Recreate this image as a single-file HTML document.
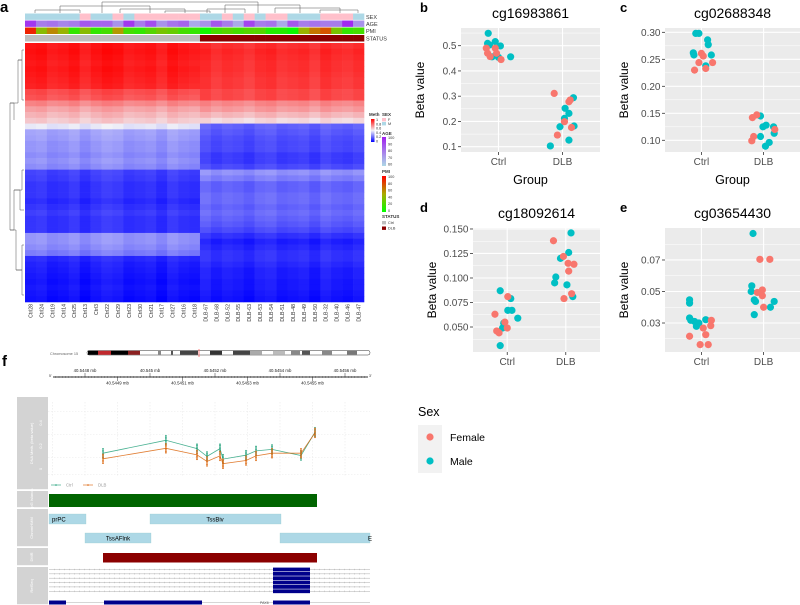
<!DOCTYPE html>
<html><head><meta charset="utf-8">
<style>
html,body{margin:0;padding:0;background:#fff;}
svg{display:block;font-family:"Liberation Sans",sans-serif;}
</style></head>
<body>
<svg id="fig" width="800" height="605" viewBox="0 0 800 605" xmlns="http://www.w3.org/2000/svg">
<g id="pa"></g>
<g id="pb"></g>
<g id="pc"></g>
<g id="pd"></g>
<g id="pe"></g>
<g id="leg"></g>
<g id="pf"></g>
</svg>
<script>
// ---------- Heatmap data ----------
const hmCols = ["Ctrl28","Ctrl24","Ctrl19","Ctrl14","Ctrl25","Ctrl13","Ctrl3","Ctrl22","Ctrl29","Ctrl23","Ctrl30","Ctrl21","Ctrl17","Ctrl27","Ctrl16","Ctrl18","DLB-67","DLB-68","DLB-52","DLB-55","DLB-63","DLB-53","DLB-54","DLB-51","DLB-48","DLB-49","DLB-50","DLB-32","DLB-40","DLB-46","DLB-47"];
const hmCtrlRow = [0.95,0.96,0.95,0.94,0.95,0.94,0.93,0.92,0.84,0.82,0.72,0.66,0.62,0.58,0.47,0.33,0.32,0.30,0.30,0.28,0.30,0.28,0.13,0.12,0.10,0.10,0.10,0.08,0.10,0.12,0.10,0.10,0.10,0.30,0.30,0.28,0.25,0.08,0.06,0.05,0.04,0.03,0.04,0.03,0.02];
const hmDlbRow = [0.90,0.92,0.91,0.90,0.90,0.89,0.88,0.88,0.85,0.85,0.72,0.68,0.62,0.55,0.20,0.18,0.16,0.15,0.15,0.12,0.12,0.15,0.30,0.26,0.20,0.20,0.22,0.22,0.20,0.22,0.20,0.18,0.15,0.10,0.06,0.08,0.10,0.10,0.08,0.06,0.06,0.05,0.05,0.04,0.03];
const hmColOffset = [0.01,0.02,-0.01,0.0,0.02,-0.02,0.01,0.03,0.02,-0.01,0.0,0.01,-0.02,0.02,0.0,-0.01,0.02,-0.01,0.01,0.0,-0.02,0.01,0.02,-0.01,0.0,0.01,-0.02,0.02,0.0,-0.01,0.01];
const hmSex = ["M","M","M","M","M","F","M","M","F","M","F","F","F","F","F","F","M","M","F","M","F","M","F","F","M","M","M","F","F","F","M"];
const hmAge = [95,80,82,78,80,88,85,85,75,95,80,90,75,82,85,70,75,88,80,70,92,80,82,70,88,80,82,80,80,98,75];
const hmPmi = [90,40,60,45,15,40,15,20,55,20,15,25,35,30,20,15,5,20,25,20,25,25,10,10,3,45,65,75,35,15,20];
// ---------- Scatter data (value, jitter, sex) ----------
const bCtrlVal=[0.549,0.509,0.516,0.499,0.456,0.454,0.456,0.503,0.47,0.457,0.49,0.445,0.49,0.47];
const bCtrlJit=[-0.16,-0.17,-0.05,0.03,-0.1,0,0.19,-0.14,-0.17,-0.13,-0.05,0.04,-0.19,-0.03];
const bCtrlSex=["M","M","M","M","M","M","M","M","F","F","F","F","F","F"];
const bDlbVal=[0.103,0.179,0.212,0.252,0.232,0.294,0.182,0.126,0.311,0.146,0.199,0.278,0.176,0.285];
const bDlbJit=[-0.19,-0.04,0.03,0.04,0.1,0.17,0.18,0.1,-0.13,-0.08,0.03,0.1,0.14,0.12];
const bDlbSex=["M","M","M","M","M","M","M","M","F","F","F","F","F","F"];
const cCtrlVal=[0.298,0.298,0.286,0.277,0.262,0.258,0.258,0.238,0.23,0.244,0.261,0.233,0.244,0.256];
const cCtrlJit=[-0.09,-0.04,0.1,0.11,-0.13,-0.12,0.16,0.07,-0.11,-0.04,0,0.07,0.18,0.03];
const cCtrlSex=["M","M","M","M","M","M","M","M","F","F","F","F","F","F"];
const cDlbVal=[0.145,0.125,0.128,0.125,0.113,0.107,0.089,0.096,0.142,0.147,0.12,0.107,0.099];
const cDlbJit=[-0.05,-0.01,0.04,0.16,0.17,-0.05,0.03,0.09,-0.18,-0.11,0.18,-0.16,-0.19];
const cDlbSex=["M","M","M","M","M","M","M","M","F","F","F","F","F"];
const dCtrlVal=[0.087,0.079,0.067,0.067,0.059,0.054,0.049,0.031,0.063,0.081,0.055,0.046,0.044,0.049];
const dCtrlJit=[-0.12,0.06,0.01,0.08,0.18,-0.06,-0.08,-0.12,-0.21,0.01,-0.04,-0.18,-0.14,0];
const dCtrlSex=["M","M","M","M","M","M","M","M","F","F","F","F","F","F"];
const dDlbVal=[0.146,0.126,0.12,0.101,0.095,0.093,0.081,0.138,0.122,0.115,0.114,0.107,0.084,0.079];
const dDlbJit=[0.09,0.05,-0.09,-0.17,-0.19,0.02,0.12,-0.21,-0.04,0.04,0.14,0.05,0.1,-0.03];
const dDlbSex=["M","M","M","M","M","M","M","F","F","F","F","F","F","F"];
const eCtrlVal=[0.0447,0.0426,0.0332,0.0317,0.0279,0.03,0.0321,0.031,0.0216,0.0163,0.0163,0.0268,0.0226,0.0317,0.0283];
const eCtrlJit=[-0.19,-0.19,-0.19,-0.17,-0.08,-0.04,0.07,-0.11,-0.19,-0.02,0.11,0.03,0.07,0.16,0.15];
const eCtrlSex=["M","M","M","M","M","M","M","M","F","F","F","F","F","F","F"];
const eDlbVal=[0.0868,0.0536,0.05,0.0447,0.0437,0.0353,0.0437,0.04,0.0704,0.0704,0.051,0.0494,0.0473,0.04];
const eDlbJit=[-0.17,-0.19,-0.2,-0.15,-0.13,-0.15,0.17,0.11,-0.06,0.1,-0.02,-0.1,-0.02,0];
const eDlbSex=["M","M","M","M","M","M","M","M","F","F","F","F","F","F"];
const bTicks=[0.1,0.2,0.3,0.4,0.5];
const cTicks=[0.10,0.15,0.20,0.25,0.30];
const dTicks=[0.050,0.075,0.100,0.125,0.150];
const eTicks=[0.03,0.05,0.07];
// ---------- Genome track data ----------
const cpgPos=[40.5448554,40.5450490,40.5451446,40.5451754,40.5452154,40.5452246,40.5452954,40.5453262,40.5453754,40.5454646,40.5455077];
const methCtrl=[0.137,0.25,0.177,0.11,0.177,0.086,0.12,0.157,0.17,0.117,0.32];
const methDlb=[0.089,0.18,0.123,0.066,0.114,0.046,0.074,0.114,0.137,0.137,0.314];
const methTicks=[0,0.2,0.4];
const axisTopLabels=[40.5448,40.5450,40.5452,40.5454,40.5456];
const axisBotLabels=[40.5449,40.5451,40.5453,40.5455];

const NS="http://www.w3.org/2000/svg";
function el(parent,tag,attrs,text){const e=document.createElementNS(NS,tag);for(const k in attrs)e.setAttribute(k,attrs[k]);if(text!==undefined)e.textContent=text;parent.appendChild(e);return e;}

// ======== Panel a ========
const pa=document.getElementById('pa');
const lblA=el(pa,'text',{x:0,y:12,'font-size':15,'font-weight':'bold'},'a');


const hx0=25,hx1=364,hy0=43,hy1=302;
const cw=(hx1-hx0)/hmCols.length, rh=(hy1-hy0)/hmCtrlRow.length;
function methColor(v){v=Math.max(0,Math.min(1,v));let r,g,b;
 if(v<0.5){const t=v/0.5;r=Math.round(0+t*242);g=Math.round(0+t*242);b=Math.round(255-t*8);}
 else{const t=(v-0.5)/0.5;r=Math.round(242+t*13);g=Math.round(242-t*242);b=Math.round(247-t*247);}
 return `rgb(${r},${g},${b})`;}
const cells=el(pa,'g',{});


for(let i=0;i<hmCtrlRow.length;i++){for(let j=0;j<hmCols.length;j++){
 const base=hmCols[j].startsWith('Ctrl')?hmCtrlRow[i]:hmDlbRow[i];
 const c=el(cells,'rect',{x:(hx0+j*cw).toFixed(2),y:(hy0+i*rh).toFixed(2),width:(cw+0.3).toFixed(2),height:(rh+0.3).toFixed(2),fill:methColor(base+hmColOffset[j])});
 
 
}}
function ageColor(a){const t=(a-60)/40;const r=Math.round(173+t*(160-173)),g=Math.round(216+t*(32-216)),b=Math.round(230+t*(240-230));return `rgb(${r},${g},${b})`;}
function pmiColor(p){const t=p/100;let r,g,b;if(t<0.5){const s=t/0.5;r=Math.round(0+s*170);g=Math.round(255-s*85);b=0;}else{const s=(t-0.5)/0.5;r=Math.round(170+s*85);g=Math.round(170-s*170);b=0;}return `rgb(${r},${g},${b})`;}
const annY=[13.5,20.5,27.5,35];
const annNames=['SEX','AGE','PMI','STATUS'];
for(let j=0;j<hmCols.length;j++){
 const x=hx0+j*cw;
 const s=el(pa,'rect',{x:x,y:annY[0],width:cw+0.3,height:6.5,fill:hmSex[j]==='F'?'#FFC0CB':'#ADD8E6'});
 
 
 const a=el(pa,'rect',{x:x,y:annY[1],width:cw+0.3,height:6.5,fill:ageColor(hmAge[j])});
 
 
 const p=el(pa,'rect',{x:x,y:annY[2],width:cw+0.3,height:6.5,fill:pmiColor(hmPmi[j])});
 
 
 const st=el(pa,'rect',{x:x,y:annY[3],width:cw+0.3,height:6.5,fill:hmCols[j].startsWith('Ctrl')?'#BEBEBE':'#8B0000'});
 
 
 const t=el(pa,'text',{x:0,y:0,'font-size':5.2,fill:'#333','text-anchor':'end',transform:`translate(${(x+cw/2+2).toFixed(1)},304) rotate(-90)`},hmCols[j]);
 
 
}
el(pa,'line',{x1:hx0,y1:20.2,x2:hx1,y2:20.2,stroke:'#fff','stroke-width':0.6});
el(pa,'line',{x1:hx0,y1:27.2,x2:hx1,y2:27.2,stroke:'#fff','stroke-width':0.6});
for(let k=0;k<4;k++){const t=el(pa,'text',{x:366,y:annY[k]+5.5,'font-size':5.5,fill:'#333'},annNames[k]);
 
 }
const dend=el(pa,'g',{stroke:'#555','stroke-width':0.5,fill:'none'});


el(dend,'path',{d:'M102 13V2H258V13 M102 6H60V13 M102 6H150V13 M60 10H35V13 M60 10H80V13 M150 9H120V13 M150 9H185V13 M185 11H165V13 M185 11H210V13 M258 5H225V13 M258 5H300V13 M300 8H275V13 M300 8H340V13 M340 10H320V13 M340 10H358V13 M225 9H207V13 M225 9H245V13'});
el(dend,'path',{d:'M10 103V230 M10 103H18V60 M18 60H22V50 M18 60H22V100 M10 103H14V120 M10 230H14V190 M10 230H16V270 M14 190H22V170 M14 190H20V210 M16 270H22V245 M16 270H22V295 M22 50H24 M22 100H24 M22 170H24 M20 210H24 M22 245H24 M22 295H24'});
function gradRect(id,stops,x,y,w,h,nm){const defs=el(pa,'defs',{});const lg=el(defs,'linearGradient',{id:id,x1:0,y1:1,x2:0,y2:0});stops.forEach((c,i)=>el(lg,'stop',{offset:i/(stops.length-1),'stop-color':c}));const r=el(pa,'rect',{x:x,y:y,width:w,height:h,fill:`url(#${id})`});}
el(pa,'text',{x:369,y:116,'font-size':4.5,'font-weight':'bold',fill:'#333'},'Meth');
gradRect('gm',['#0000FF','#F2F2F7','#FF0000'],371,119,3.5,23,'meth-colorbar');
['1','0.8','0.6','0.4','0.2','0'].forEach((t,i)=>el(pa,'text',{x:376,y:121+i*4.3,'font-size':3.8,fill:'#333'},t));
el(pa,'text',{x:382,y:116,'font-size':4.5,'font-weight':'bold',fill:'#333'},'SEX');
el(pa,'rect',{x:382,y:118,width:4,height:3.4,fill:'#FFC0CB'});el(pa,'rect',{x:382,y:122,width:4,height:3.4,fill:'#ADD8E6'});
el(pa,'text',{x:388,y:121,'font-size':3.8,fill:'#333'},'F');el(pa,'text',{x:388,y:125,'font-size':3.8,fill:'#333'},'M');
el(pa,'text',{x:382,y:135,'font-size':4.5,'font-weight':'bold',fill:'#333'},'AGE');
gradRect('ga',['#ADD8E6','#A020F0'],382,137,4,29,'age-colorbar');
['100','90','80','70','60'].forEach((t,i)=>el(pa,'text',{x:388,y:139+i*6.6,'font-size':3.8,fill:'#333'},t));
el(pa,'text',{x:382,y:173,'font-size':4.5,'font-weight':'bold',fill:'#333'},'PMI');
gradRect('gp',['#00FF00','#AAAA00','#FF0000'],382,176,4,36,'pmi-colorbar');
['100','80','60','40','20','0'].forEach((t,i)=>el(pa,'text',{x:388,y:178+i*6.8,'font-size':3.8,fill:'#333'},t));
el(pa,'text',{x:382,y:218,'font-size':4.5,'font-weight':'bold',fill:'#333'},'STATUS');
el(pa,'rect',{x:382,y:221,width:4,height:3.4,fill:'#BEBEBE'});el(pa,'rect',{x:382,y:226.5,width:4,height:3.4,fill:'#8B0000'});
el(pa,'text',{x:388,y:224,'font-size':3.8,fill:'#333'},'Ctrl');el(pa,'text',{x:388,y:229.5,'font-size':3.8,fill:'#333'},'DLB');

// ======== Scatter panels ========
function scatter(gid,cfg){
 const g=document.getElementById(gid);
 const {x0,x1,y0,y1,vTop,vBot,ticks,fmt,title,letter,letterX,showGroup}=cfg;
 const xs=c=>x0+(c-0.415)/(2.585-0.415)*(x1-x0);
 const ys=v=>y0+(vTop-v)/(vTop-vBot)*(y1-y0);
 const bg=el(g,'rect',{x:x0,y:y0,width:x1-x0,height:y1-y0,fill:'#EBEBEB'});
 
 
 const step=ticks[1]-ticks[0];
 for(let k=-1;k<ticks.length;k++){const m=ticks[0]+step*(k+0.5);const yy=ys(m);if(yy>y0&&yy<y1)el(g,'line',{x1:x0,x2:x1,y1:yy,y2:yy,stroke:'#fff','stroke-width':0.5});}
 ticks.forEach(t=>{const yy=ys(t);
  el(g,'line',{x1:x0,x2:x1,y1:yy,y2:yy,stroke:'#fff','stroke-width':1.1});
  el(g,'line',{x1:x0-3,x2:x0,y1:yy,y2:yy,stroke:'#333','stroke-width':0.8});
  const tl=el(g,'text',{x:x0-4.5,y:yy+3.5,'font-size':10,fill:'#4D4D4D','text-anchor':'end'},t.toFixed(fmt));
  
  });
 [1,2].forEach((c,i)=>{const xx=xs(c);
  el(g,'line',{x1:xx,x2:xx,y1:y0,y2:y1,stroke:'#fff','stroke-width':1.1});
  el(g,'line',{x1:xx,x2:xx,y1:y1,y2:y1+3,stroke:'#333','stroke-width':0.8});
  const xl=el(g,'text',{x:xx,y:y1+13,'font-size':10,fill:'#4D4D4D','text-anchor':'middle'},['Ctrl','DLB'][i]);
  
  });
 const yt=el(g,'text',{x:0,y:0,'font-size':12,fill:'#000','text-anchor':'middle',transform:`translate(${x0-37},${(y0+y1)/2}) rotate(-90)`},'Beta value');
 
 
 if(showGroup){const gt=el(g,'text',{x:(x0+x1)/2,y:y1+32,'font-size':12.5,fill:'#000','text-anchor':'middle'},'Group');
  
  }
 const tt=el(g,'text',{x:(x0+x1)/2,y:y0-10,'font-size':14,fill:'#000','text-anchor':'middle'},title);
 
 
 const lt=el(g,'text',{x:letterX,y:y0-16,'font-size':13,'font-weight':'bold',fill:'#000'},letter);
 
 
 const groups=[[1,cfg.cv,cfg.cj,cfg.cs],[2,cfg.dv,cfg.dj,cfg.ds]];
 groups.forEach(([c,vals,jit,sex])=>{
  vals.forEach((v,i)=>{const p=el(g,'circle',{cx:xs(c+jit[i]).toFixed(2),cy:ys(v).toFixed(2),r:3.6,fill:sex[i]==='F'?'#F8766D':'#00BFC4'});
   
   });
 });
}
scatter('pb',{x0:461,x1:600,y0:28,y1:152,vTop:0.57,vBot:0.079,ticks:bTicks,fmt:1,title:'cg16983861',letter:'b',letterX:420,showGroup:true,cv:bCtrlVal,cj:bCtrlJit,cs:bCtrlSex,dv:bDlbVal,dj:bDlbJit,ds:bDlbSex});
scatter('pc',{x0:665,x1:800,y0:28,y1:152,vTop:0.308,vBot:0.0783,ticks:cTicks,fmt:2,title:'cg02688348',letter:'c',letterX:620,showGroup:true,cv:cCtrlVal,cj:cCtrlJit,cs:cCtrlSex,dv:cDlbVal,dj:cDlbJit,ds:cDlbSex});
scatter('pd',{x0:473,x1:600,y0:228,y1:352,vTop:0.151,vBot:0.0245,ticks:dTicks,fmt:3,title:'cg18092614',letter:'d',letterX:420,showGroup:false,cv:dCtrlVal,cj:dCtrlJit,cs:dCtrlSex,dv:dDlbVal,dj:dDlbJit,ds:dDlbSex});
scatter('pe',{x0:665,x1:800,y0:228,y1:352,vTop:0.0903,vBot:0.0116,ticks:eTicks,fmt:2,title:'cg03654430',letter:'e',letterX:620,showGroup:false,cv:eCtrlVal,cj:eCtrlJit,cs:eCtrlSex,dv:eDlbVal,dj:eDlbJit,ds:eDlbSex});

const lg=document.getElementById('leg');
el(lg,'text',{x:418,y:416,'font-size':12.5,fill:'#000'},'Sex');
el(lg,'rect',{x:418,y:425,width:24,height:48,fill:'#F2F2F2'});
const lf=el(lg,'circle',{cx:430,cy:437,r:3.6,fill:'#F8766D'});


const lm=el(lg,'circle',{cx:430,cy:461,r:3.6,fill:'#00BFC4'});


el(lg,'text',{x:450,y:441,'font-size':10.5,fill:'#000'},'Female');
el(lg,'text',{x:450,y:465,'font-size':10.5,fill:'#000'},'Male');

// ======== Panel f ========
const pf=document.getElementById('pf');
const lf2=el(pf,'text',{x:2,y:366,'font-size':15,'font-weight':'bold'},'f');


el(pf,'text',{x:50,y:355,'font-size':3.8,fill:'#666'},'Chromosome 15');
const ideo=el(pf,'g',{});


el(ideo,'rect',{x:87,y:350.5,width:283,height:4.5,rx:2,fill:'#fff',stroke:'#333','stroke-width':0.5});
[[88,98,'#000'],[98,111,'#C0282D'],[111,128,'#000'],[128,140,'#8B2020'],[158,161,'#888'],[171,173,'#555'],[180,198,'#444'],[210,222,'#333'],[233,250,'#444'],[250,262,'#aaa'],[273,285,'#bbb'],[291,300,'#888'],[302,310,'#555'],[322,332,'#888'],[347,357,'#777']].forEach(s=>el(ideo,'rect',{x:s[0],y:350.8,width:s[1]-s[0],height:4,fill:s[2]}));
el(ideo,'line',{x1:199,x2:199,y1:349,y2:357,stroke:'#f66','stroke-width':0.8});
const ax=el(pf,'g',{});


const gx=v=>85+(v-40.5448)*260/0.0008;
el(ax,'line',{x1:53,x2:368,y1:377,y2:377,stroke:'#333','stroke-width':1});
el(ax,'text',{x:49,y:377,'font-size':3.5,fill:'#333'},'5\'');el(ax,'text',{x:369,y:377,'font-size':3.5,fill:'#333'},'3\'');
for(let k=-12;k<=100;k++){const x=gx(40.5448+k*0.00001);if(x>54&&x<367)el(ax,'line',{x1:x,x2:x,y1:376,y2:378,stroke:'#333','stroke-width':0.3});}
axisTopLabels.forEach(v=>{el(ax,'line',{x1:gx(v),x2:gx(v),y1:373,y2:377,stroke:'#333','stroke-width':0.5});el(ax,'text',{x:gx(v),y:372,'font-size':4.3,fill:'#222','text-anchor':'middle'},(Math.abs(v-40.545)<1e-9?'40.545':v.toFixed(4))+' mb');});
axisBotLabels.forEach(v=>{el(ax,'line',{x1:gx(v),x2:gx(v),y1:377,y2:381,stroke:'#333','stroke-width':0.5});el(ax,'text',{x:gx(v),y:384.5,'font-size':4.3,fill:'#222','text-anchor':'middle'},v.toFixed(4)+' mb');});
const tracks=[['DNA Meth. (beta value)',397,490],['CpG Islands',491,508],['ChromHMM',509,547],['DMR',548,566],['RefSeq',567,605]];
tracks.forEach(t=>{const r=el(pf,'rect',{x:17,y:t[1],width:31,height:t[2]-t[1]-0.8,fill:'#D3D3D3'});
 
 
 el(pf,'text',{x:0,y:0,'font-size':4,fill:'#fff','text-anchor':'middle',transform:`translate(33,${(t[1]+t[2])/2}) rotate(-90)`},t[0]);});
const mt=el(pf,'g',{});


const my=v=>469-v*(469-423)/0.4;
for(let k=-2;k<=10;k++){const x=gx(40.5448+k*0.0001);if(x>48&&x<370)el(mt,'line',{x1:x,x2:x,y1:402,y2:477,stroke:'#ddd','stroke-width':0.4,'stroke-dasharray':'1.5,1.5'});}
[-0.05,0.1,0.3,0.5].forEach(v=>el(mt,'line',{x1:48,x2:370,y1:my(v),y2:my(v),stroke:'#e4e4e4','stroke-width':0.4,'stroke-dasharray':'1.5,1.5'}));
methTicks.forEach(v=>el(mt,'text',{x:0,y:0,'font-size':4,fill:'#fff','text-anchor':'middle',transform:`translate(42,${my(v)}) rotate(-90)`},String(v)));
function methLine(vals,col,nm){
 const pts=vals.map((v,i)=>`${gx(cpgPos[i]).toFixed(1)},${my(v).toFixed(1)}`).join(' ');
 const pl=el(mt,'polyline',{points:pts,fill:'none',stroke:col,'stroke-width':0.8,opacity:0.8});
 
 
 vals.forEach((v,i)=>{const x=gx(cpgPos[i]);
  for(let k=-3;k<=3;k++){el(mt,'circle',{cx:x,cy:my(v+k*0.013),r:0.8,fill:col});}});
}
methLine(methCtrl,'#1B9E77','ctrl-methylation-line');
methLine(methDlb,'#D95F02','dlb-methylation-line');
el(mt,'line',{x1:51,x2:61,y1:485,y2:485,stroke:'#1B9E77','stroke-width':0.6});el(mt,'circle',{cx:56,cy:485,r:0.8,fill:'#1B9E77'});
el(mt,'text',{x:66,y:486.5,'font-size':4.3,fill:'#999'},'Ctrl');
el(mt,'line',{x1:83,x2:93,y1:485,y2:485,stroke:'#D95F02','stroke-width':0.6});el(mt,'circle',{cx:88,cy:485,r:0.8,fill:'#D95F02'});
el(mt,'text',{x:98,y:486.5,'font-size':4.3,fill:'#999'},'DLB');
const cpg=el(pf,'rect',{x:49,y:494,width:268,height:13,fill:'#006400'});


[[49,86,514,'prPC',52,'start'],[150,281,514,'TssBiv',215,'middle'],[85,151,533,'TssAFlnk',118,'middle'],[280,370,533,'E',368,'start']].forEach(s=>{
 const r=el(pf,'rect',{x:s[0],y:s[2],width:s[1]-s[0],height:10,fill:'#ADD8E6',stroke:'#9cc','stroke-width':0.3});
 
 
 el(pf,'text',{x:s[4],y:s[2]+7.5,'font-size':6,fill:'#000','text-anchor':s[5]},s[3]);});
const dmr=el(pf,'rect',{x:103,y:553,width:214,height:9.5,fill:'#8B0000'});


const rs=el(pf,'g',{});


for(let k=0;k<6;k++){const y=569.5+k*4.35;el(rs,'line',{x1:49,x2:370,y1:y,y2:y,stroke:'#999','stroke-width':0.4});
 for(let x=55;x<370;x+=5)el(rs,'path',{d:`M${x-0.8} ${y-0.7}L${x} ${y}L${x-0.8} ${y+0.7}`,stroke:'#999','stroke-width':0.3,fill:'none'});
 el(rs,'rect',{x:273,y:y-1.9,width:37,height:3.8,fill:'#00008B'});}
el(rs,'line',{x1:49,x2:370,y1:602.5,y2:602.5,stroke:'#999','stroke-width':0.4});
el(rs,'rect',{x:49,y:600.5,width:17,height:4,fill:'#00008B'});
el(rs,'rect',{x:104,y:600.5,width:98,height:4,fill:'#00008B'});
el(rs,'rect',{x:273,y:600.5,width:37,height:4,fill:'#00008B'});
el(rs,'text',{x:260,y:604,'font-size':3.5,fill:'#555'},'PAX6');
</script>
</body></html>
